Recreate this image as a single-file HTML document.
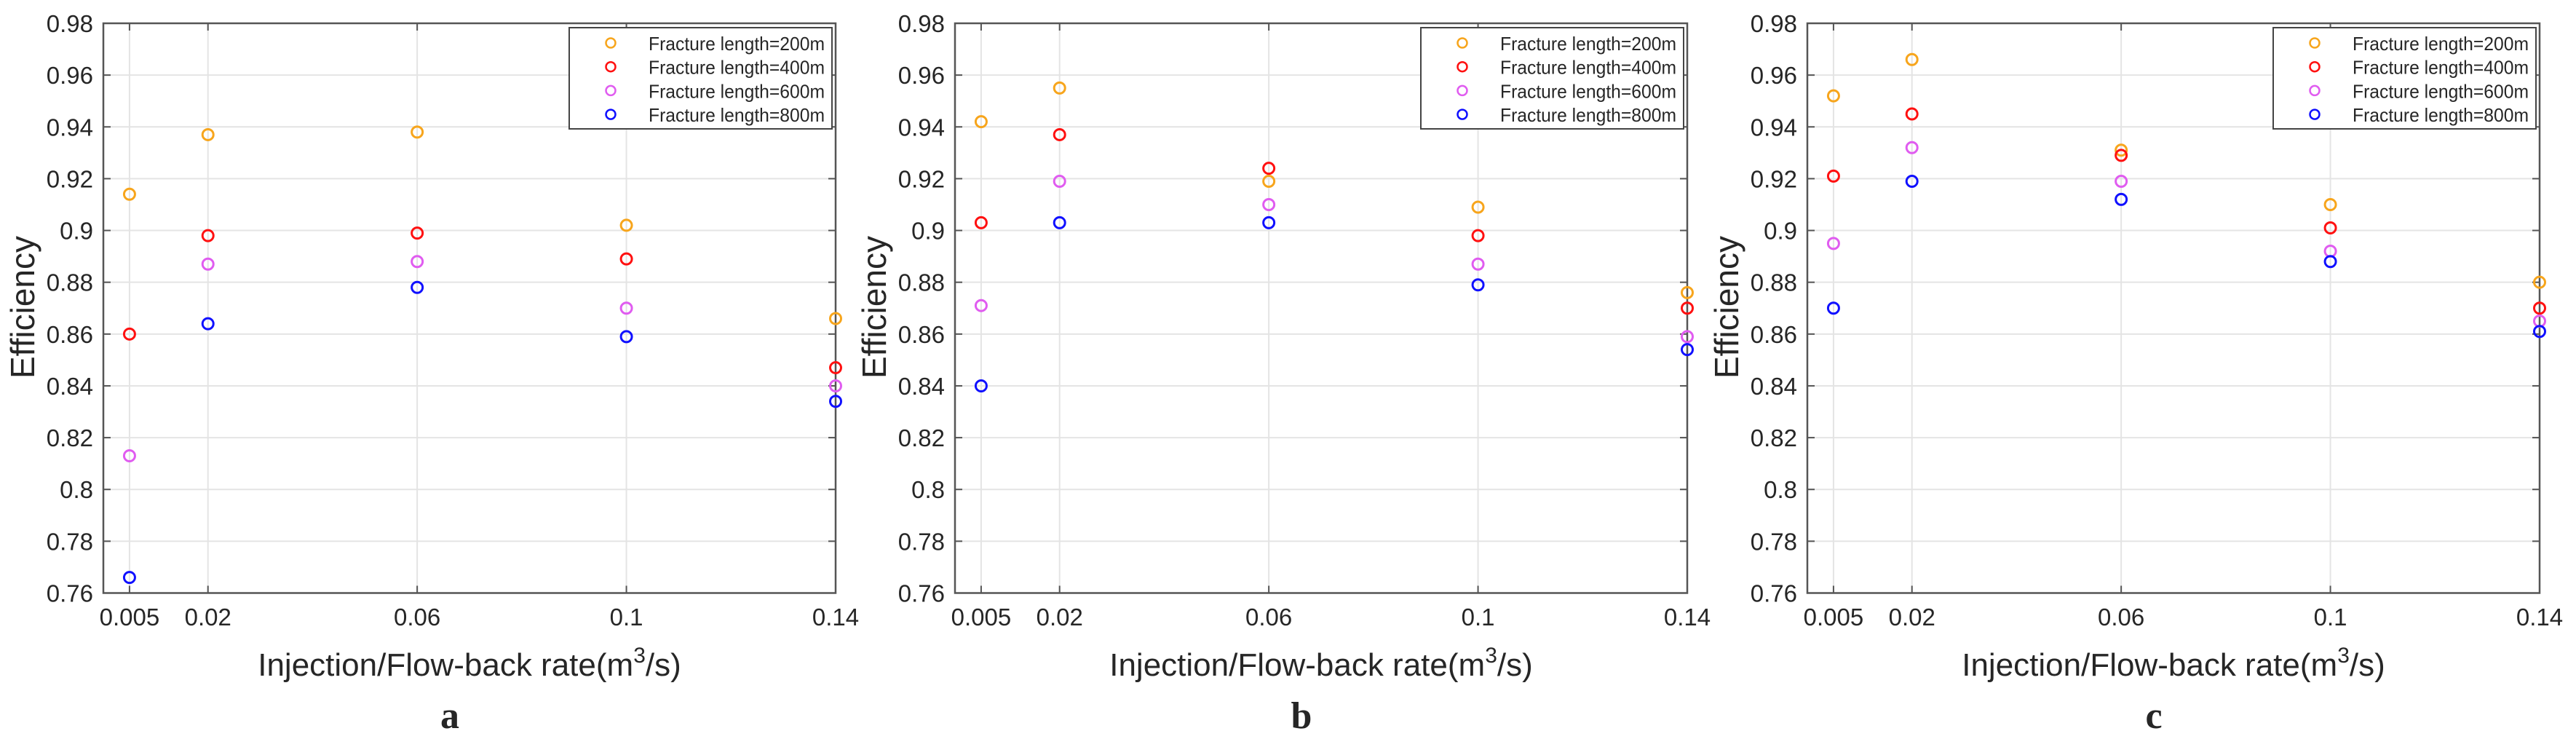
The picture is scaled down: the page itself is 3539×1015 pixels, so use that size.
<!DOCTYPE html>
<html><head><meta charset="utf-8"><style>
html,body{margin:0;padding:0;background:#fff;}
svg{display:block;}
text{font-family:"Liberation Sans",Arial,sans-serif;fill:#262626;}
</style></head>
<body>
<svg id="fig" width="3539" height="1015" viewBox="0 0 3539 1015" xmlns="http://www.w3.org/2000/svg"></svg>
<script>
const xCategories = [0.005, 0.02, 0.06, 0.1, 0.14];
const xTickLabels = ["0.005", "0.02", "0.06", "0.1", "0.14"];
const yTicks = [0.76, 0.78, 0.8, 0.82, 0.84, 0.86, 0.88, 0.9, 0.92, 0.94, 0.96, 0.98];
const yTickLabels = ["0.76","0.78","0.8","0.82","0.84","0.86","0.88","0.9","0.92","0.94","0.96","0.98"];
const seriesNames = ["Fracture length=200m","Fracture length=400m","Fracture length=600m","Fracture length=800m"];
const panelLabels = ["a","b","c"];
const a200 = [0.914, 0.937, 0.938, 0.902, 0.866];
const a400 = [0.860, 0.898, 0.899, 0.889, 0.847];
const a600 = [0.813, 0.887, 0.888, 0.870, 0.840];
const a800 = [0.766, 0.864, 0.878, 0.859, 0.834];
const b200 = [0.942, 0.955, 0.919, 0.909, 0.876];
const b400 = [0.903, 0.937, 0.924, 0.898, 0.870];
const b600 = [0.871, 0.919, 0.910, 0.887, 0.859];
const b800 = [0.840, 0.903, 0.903, 0.879, 0.854];
const c200 = [0.952, 0.966, 0.931, 0.910, 0.880];
const c400 = [0.921, 0.945, 0.929, 0.901, 0.870];
const c600 = [0.895, 0.932, 0.919, 0.892, 0.865];
const c800 = [0.870, 0.919, 0.912, 0.888, 0.861];

const panelsData = [[a200,a400,a600,a800],[b200,b400,b600,b800],[c200,c400,c600,c800]];
const colors = ["#f7a51c","#ff1010","#e05cf0","#1010ff"];
const lefts = [142, 1312, 2483];
const W = 1006, TOP = 32, BOT = 814.5;
const XMIN = 0, XMAX = 0.14, YMIN = 0.76, YMAX = 0.98;
const svg = document.getElementById('fig');
const NS = "http://www.w3.org/2000/svg";
function mk(tag, attrs, parent){
  const e = document.createElementNS(NS, tag);
  for (const k in attrs) e.setAttribute(k, attrs[k]);
  (parent||svg).appendChild(e);
  return e;
}
panelsData.forEach((series, p) => {
  const L = lefts[p], R = L + W;
  const sx = v => L + (v - XMIN) / (XMAX - XMIN) * W;
  const sy = v => BOT - (v - YMIN) / (YMAX - YMIN) * (BOT - TOP);
  const g = mk('g', {});
  
  
  yTicks.forEach(t => {
    const ln = mk('line', {x1:L, x2:R, y1:sy(t), y2:sy(t), stroke:'#e4e4e4', 'stroke-width':2}, g);
    
    
  });
  xCategories.forEach(t => {
    const ln = mk('line', {x1:sx(t), x2:sx(t), y1:TOP, y2:BOT, stroke:'#e4e4e4', 'stroke-width':2}, g);
    
    
  });
  const box = mk('rect', {x:L, y:TOP, width:W, height:BOT-TOP, fill:'none', stroke:'#555', 'stroke-width':2.5}, g);
  
  
  yTicks.forEach((t, i) => {
    mk('line', {x1:L, x2:L+10, y1:sy(t), y2:sy(t), stroke:'#555', 'stroke-width':2}, g);
    mk('line', {x1:R, x2:R-10, y1:sy(t), y2:sy(t), stroke:'#555', 'stroke-width':2}, g);
    const tx = mk('text', {x:L-14, y:sy(t)+12, 'text-anchor':'end', 'font-size':33}, g);
    tx.textContent = yTickLabels[i];
    
    
  });
  xCategories.forEach((t, i) => {
    mk('line', {x1:sx(t), x2:sx(t), y1:BOT, y2:BOT-10, stroke:'#555', 'stroke-width':2}, g);
    mk('line', {x1:sx(t), x2:sx(t), y1:TOP, y2:TOP+10, stroke:'#555', 'stroke-width':2}, g);
    const tx = mk('text', {x:sx(t), y:859, 'text-anchor':'middle', 'font-size':33}, g);
    tx.textContent = xTickLabels[i];
    
    
  });
  const yt = mk('text', {x:0, y:0, 'text-anchor':'middle', 'font-size':46, transform:`translate(${L-95},422) rotate(-90)`}, g);
  yt.textContent = 'Efficiency';
  
  
  const xt = mk('text', {x:L+W/2, y:928, 'text-anchor':'middle', 'font-size':44}, g);
  xt.innerHTML = 'Injection/Flow-back rate(m<tspan dy="-18" font-size="30">3</tspan><tspan dy="18">/s)</tspan>';
  
  
  const pl = mk('text', {x:L+W/2-27, y:1000, 'text-anchor':'middle', 'font-size':52, 'font-weight':'bold', style:'font-family:"Liberation Serif",serif'}, g);
  pl.textContent = panelLabels[p];
  
  
  series.forEach((vals, s) => {
    vals.forEach((v, i) => {
      const c = mk('circle', {cx:sx(xCategories[i]), cy:sy(v), r:7.5, fill:'none', stroke:colors[s], 'stroke-width':3}, g);
      
      
    });
  });
  const lg = mk('g', {}, g);
  
  
  mk('rect', {x:L+640, y:38, width:361, height:139, fill:'#fff', stroke:'#444', 'stroke-width':2}, lg);
  seriesNames.forEach((nm, s) => {
    const cy = 59 + s * 32.7;
    const m = mk('circle', {cx:L+697, cy:cy, r:6.5, fill:'none', stroke:colors[s], 'stroke-width':2.5}, lg);
    
    
    const t = mk('text', {x:L+749, y:cy+10, 'font-size':26, textLength:242, lengthAdjust:'spacingAndGlyphs'}, lg);
    t.textContent = nm;
    
    
  });
});
</script>
</body></html>
